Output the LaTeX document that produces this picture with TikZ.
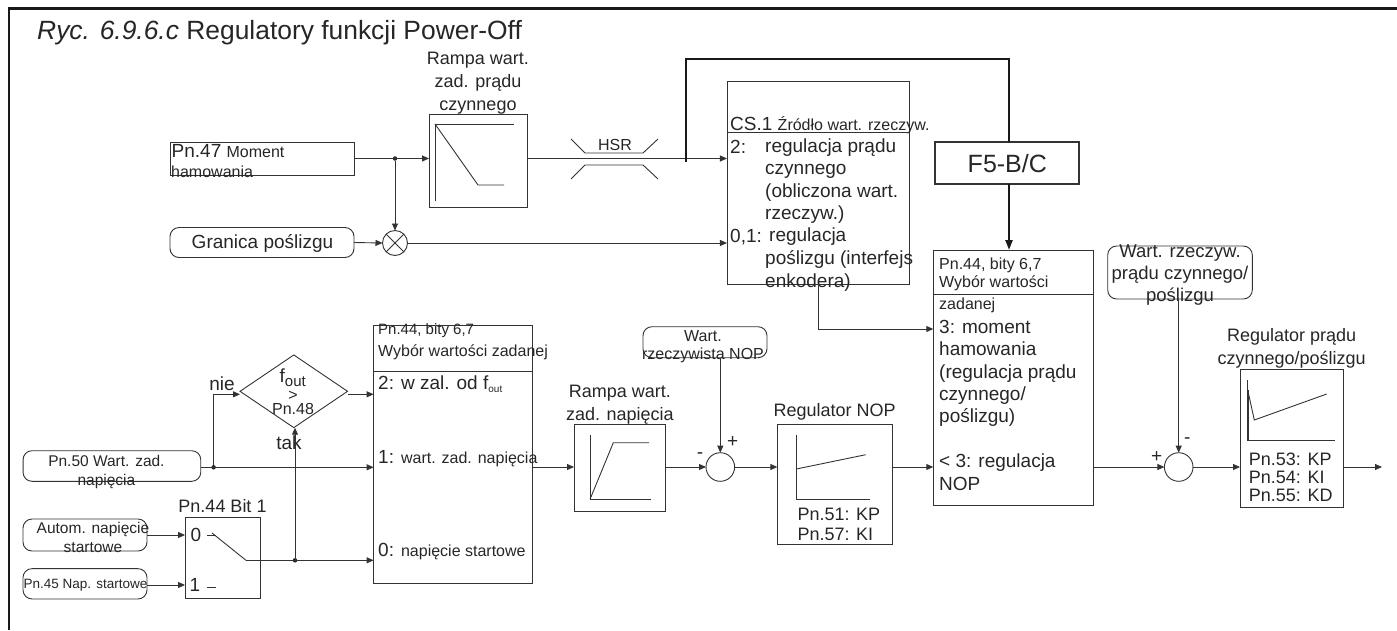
\documentclass[tikz,border=0pt]{standalone}
\usepackage{fontspec}
\setmainfont{Liberation Sans}
\usepackage{xcolor}
\usetikzlibrary{arrows.meta, positioning, shapes.geometric}
\newcommand{\fsize}[1]{\fontsize{#1}{#1}\selectfont}
\begin{document}
\begin{tikzpicture}[
  x=1pt, y=-1pt,
  every node/.style={text=black!85},
  line/.style={draw=black!80, line width=0.9pt},
  arrow/.style={line, -{Stealth[length=7pt, width=6pt, inset=0pt]}},
  heavy/.style={draw=black!90, line width=2.2pt},
  heavyarrow/.style={heavy, -{Stealth[length=10pt, width=7pt, inset=0pt]}},
  block/.style={line, rectangle, inner sep=0pt, outer sep=0pt},
  round/.style={block, rounded corners=9pt},
  sum/.style={line, circle, inner sep=0pt, outer sep=0pt, minimum size=28.6pt},
  dot/.style={circle, fill=black!85, inner sep=0pt, minimum size=4.5pt},
  txt/.style={inner sep=0pt, align=left, anchor=west, font=\fsize{16}},
  mid/.style={inner sep=0pt, align=center, font=\fontsize{18}{23}\selectfont},
  big/.style={inner sep=0pt, align=left, anchor=west, font=\fontsize{19}{22.3}\selectfont},
  small/.style={inner sep=0pt, align=center, font=\fontsize{15.5}{19}\selectfont}
]
  \useasboundingbox (0,0) rectangle (1397,630);
  \draw[draw=black!90, line width=2.6pt] (9,630) -- (9,8.5) -- (1397,8.5);
  \node[inner sep=0pt, anchor=base west, font=\fsize{26.4}] (title) at (37,39) {\textit{Ryc. 6.9.6.c} Regulatory funkcji Power-Off};

  \node[block, minimum width=184pt, minimum height=33pt] (moment) at (262,158.5) {};
  \node[big] (momenttxt) at (171.5,151) {Pn.47 {\fsize{16}Moment}};
  \node[txt] (hamtxt) at (171,171.5) {hamowania};
  \node[round, minimum width=184pt, minimum height=30pt] (granica) at (262,242.5) {};
  \node[inner sep=0pt, font=\fsize{19}] (granicatxt) at (262.5,243) {Granica poślizgu};
  \node[block, minimum width=98pt, minimum height=93pt] (rampi) at (478,160.5) {};
  \node[mid, above=-0.5pt of rampi] (rampitxt) {Rampa wart.\\zad. prądu\\czynnego};
  \node[dot] (jmoment) at (395,158.5) {};
  \node[sum, minimum size=25pt] (mult) at (395,243) {};
  \node[inner sep=0pt, font=\fsize{16}] (hsr) at (615,145) {HSR};

  \node[block, minimum width=182.3pt, minimum height=202.6pt] (cs) at (818.1,183) {};
  \coordinate (csa) at (cs.west |- 0,132.3);
  \coordinate (cs2) at (cs.west |- 0,158.5);
  \coordinate (cs01) at (cs.west |- 0,243);
  \node[big] (cstxt) at (730,125) {CS.1 {\fsize{16}Źródło wart. rzeczyw.}};
  \node[big] (csb) at (730,146.7) {2:};
  \node[big, anchor=north west] (csbtxt) at (765,138.7) {regulacja prądu\\czynnego\\(obliczona wart.\\rzeczyw.)};
  \node[big] (csc) at (730,236.7) {0,1:};
  \node[big] (csctxt) at (769,236.7) {regulacja};
  \node[big, anchor=north west, font=\fontsize{19}{23.5}\selectfont] (csdtxt) at (765,250.3) {poślizgu (interfejs\\enkodera)};

  \node[block, line width=2pt, minimum width=144pt, minimum height=41.7pt] (fb) at (1007.3,163.2) {};
  \node[inner sep=0pt, font=\fsize{25}] (fbtxt) at (fb) {F5-B/C};
  \coordinate (cslink) at (686.3,161.5);
  \coordinate (fbtop) at (1009,59);

  \node[block, minimum width=160pt, minimum height=255pt] (sel) at (1013.3,377.5) {};
  \coordinate (selb) at (sel.west |- 0,294.3);
  \coordinate (sel3) at (sel.west |- 0,329);
  \coordinate (sel0) at (sel.west |- 0,467);
  \node[txt] (seltxt) at (939,265) {Pn.44, bity 6,7};
  \node[txt] (selname) at (939,283.3) {Wybór wartości};
  \node[txt] (selzad) at (939,305) {zadanej};
  \node[big, anchor=north west] (selm) at (939,320) {3: moment\\hamowania\\(regulacja prądu\\czynnego/\\poślizgu)};
  \node[big, anchor=north west] (seln) at (939,454) {< 3: regulacja\\NOP};

  \node[block, minimum width=158.4pt, minimum height=258pt] (spt) at (452.8,454) {};
  \coordinate (sptb) at (spt.west |- 0,371.3);
  \coordinate (spt2) at (spt.west |- 0,394.3);
  \coordinate (spt1) at (spt.west |- 0,467.3);
  \coordinate (spt0) at (spt.west |- 0,560.3);
  \node[txt, font=\fsize{15}] (spttxt) at (378,330.5) {Pn.44, bity 6,7};
  \node[txt] (sptname) at (378,352.7) {Wybór wartości zadanej};
  \node[big] (spta) at (378,384) {2: w zal. od f\textsubscript{\fsize{10}out}};
  \node[big] (sptc) at (378,459) {1: {\fsize{16}wart. zad. napięcia}};
  \node[big] (sptd) at (378,552) {0: {\fsize{16}napięcie startowe}};

  \node[draw=black!80, line width=0.9pt, diamond, aspect=1.47, inner sep=0pt, outer sep=0pt, minimum width=107.5pt, minimum height=72.7pt] (fout) at (293.8,391.3) {};
  \coordinate (foutl) at (240,394.3);
  \coordinate (foutr) at (347.5,394.3);
  \coordinate (foutb) at (295,427.7);
  \node[inner sep=0pt, align=center, font=\fontsize{16}{16}\selectfont] (fouttxt) at (293,391.5) {{\fsize{19}f\textsubscript{\fsize{15}out}}\\[2pt]>\\[-2pt]Pn.48};
  \node[inner sep=0pt, font=\fsize{19}] (nie) at (222,384) {nie};
  \node[inner sep=0pt, font=\fsize{19}] (tak) at (289,443) {tak};

  \node[round, minimum width=177.7pt, minimum height=30.6pt] (zadnap) at (111.9,466) {};
  \node[small] (zadnaptxt) at (106.4,472) {Pn.50 Wart. zad.\\napięcia};
  \node[dot] (jzad) at (213.6,467.3) {};
  \node[round, minimum width=124pt, minimum height=32pt] (autom) at (85,535) {};
  \node[small] (automtxt) at (93,537.5) {Autom. napięcie\\startowe};
  \node[round, minimum width=124pt, minimum height=30.3pt] (napst) at (85,583.8) {};
  \node[inner sep=0pt, font=\fsize{13.5}] (napsttxt) at (85.5,585.7) {Pn.45 Nap. startowe};

  \node[block, minimum width=75pt, minimum height=81pt] (bit) at (222.5,558.2) {};
  \node[mid, above=5pt of bit] (bittxt) {Pn.44 Bit 1};
  \node[big, anchor=center] (bitz) at (196,535) {0};
  \node[big, anchor=center] (bito) at (195,585) {1};
  \coordinate (bitin0) at (bit.west |- autom);
  \coordinate (bitin1) at (bit.west |- 0,585);
  \coordinate (swout) at (246,560.3);
  \node[dot] (jsw) at (295,560.3) {};

  \node[block, minimum width=91.7pt, minimum height=87.4pt] (rampu) at (619.9,468) {};
  \node[mid, above=0pt of rampu] (rampi2txt) {Rampa wart.\\zad. napięcia};
  \node[round, minimum width=124pt, minimum height=31pt] (nop) at (705,342.2) {};
  \node[small, font=\fontsize{16}{18.5}\selectfont] (noptxt) at (703,346.5) {Wart.\\rzeczywista NOP};
  \node[sum] (sumn) at (720.3,467) {};
  \node[inner sep=0pt, font=\fsize{19}] (sumnp) at (732.7,442) {+};
  \node[inner sep=0pt, font=\fsize{19}] (sumnm) at (700,456) {-};
  \node[block, minimum width=114.7pt, minimum height=120pt] (regn) at (834.7,484.3) {};
  \node[mid, above=4pt of regn] (regntxt) {Regulator NOP};
  \node[mid, align=left, anchor=north west, font=\fontsize{18}{20}\selectfont] (regnpar) at (797.3,508) {Pn.51: KP\\Pn.57: KI};

  \node[round, minimum width=144.6pt, minimum height=53pt] (actual) at (1180,272.5) {};
  \node[inner sep=0pt, align=center, font=\fontsize{18.5}{22}\selectfont] (actualtxt) at (1180,275) {Wart. rzeczyw.\\prądu czynnego/\\poślizgu};
  \node[sum] (sumi) at (1178.7,467) {};
  \node[inner sep=0pt, font=\fsize{19}] (sumip) at (1156.7,457.3) {+};
  \node[inner sep=0pt, font=\fsize{19}] (sumim) at (1187.3,440.7) {-};
  \node[block, minimum width=103.3pt, minimum height=137.6pt] (regi) at (1291.7,438.5) {};
  \node[mid, above=1.5pt of regi] (regitxt) {Regulator prądu\\czynnego/poślizgu};
  \node[mid, align=left, anchor=north west, font=\fontsize{18}{18.2}\selectfont] (regipar) at (1248.7,452.5) {Pn.53: KP\\Pn.54: KI\\Pn.55: KD};
  \coordinate (regiout) at (1382,467);

  \draw[line] (435,124) -- (514,124);
  \draw[line] (435,124) -- (435,201);
  \draw[line] (435,124) -- (478,185) -- (504,185);
  \draw[line] (571,139) -- (585,153) -- (643,153) -- (658,139);
  \draw[line] (571,179) -- (585,165) -- (643,165) -- (658,179);
  \draw[line] (590,435) -- (590,499.3) -- (650.7,499.3);
  \draw[line] (590,499.3) -- (613.3,442.7) -- (649,442.7);
  \draw[line] (796.3,435) -- (796.3,499.3) -- (870,499.3);
  \draw[line] (796.3,469) -- (865.7,454.7);
  \draw[line] (1247.7,380) -- (1247.7,440.7) -- (1335,440.7);
  \draw[line, line width=1.6pt] (1247.7,390) -- (1247.7,440.7);
  \draw[line] (1247.7,390) -- (1254.3,420) -- (1326.7,394);
  \draw[line] (mult.45) -- (mult.225);
  \draw[line] (mult.135) -- (mult.315);
  \draw[line] (csa) -- (cs.east |- csa);
  \draw[line] (selb) -- (sel.east |- selb);
  \draw[line] (sptb) -- (spt.east |- sptb);
  \draw[line] (207,535) -- (216,535);
  \draw[line] (206.5,587) -- (216,587);
  \draw[line] (212,533) -- (swout);

  \draw[arrow] (moment.east) -- (moment.east -| rampi.west);
  \draw[arrow] (jmoment) -- (mult.north);
  \draw[arrow] (granica.east) -- (mult.west);
  \draw[arrow] (mult.east) -- (cs01);
  \draw[arrow] (rampi.east |- moment) -- (cs2);
  \draw[heavy] (cslink) |- (fbtop) -- (fbtop |- fb.north);
  \draw[heavyarrow] (fbtop |- fb.south) -- (fbtop |- sel.north);
  \draw[arrow] (cs.south) |- (sel3);
  \draw[arrow] (foutr) -- (spt2);
  \draw[arrow] (zadnap.east |- spt1) -- (spt1);
  \draw[arrow] (jzad) |- (foutl);
  \draw[arrow] (jsw) -- (foutb);
  \draw[arrow] (swout) -- (spt0);
  \draw[arrow] (autom.east |- bitin0) -- (bitin0);
  \draw[arrow] (napst.east |- bitin1) -- (bitin1);
  \draw[arrow] (spt.east |- sumn) -- (rampu.west |- sumn);
  \draw[arrow] (rampu.east |- sumn) -- (sumn.west);
  \draw[arrow] (sumn.east) -- (regn.west |- sumn);
  \draw[arrow] (regn.east |- sumn) -- (sel0);
  \draw[arrow] (nop.south -| sumn) -- (sumn.north);
  \draw[arrow] (sel.east |- sumi) -- (sumi.west);
  \draw[arrow] (actual.south -| sumi) -- (sumi.north);
  \draw[arrow] (sumi.east) -- (regi.west |- sumi);
  \draw[arrow] (regi.east |- sumi) -- (regiout);
\end{tikzpicture}
\end{document}
